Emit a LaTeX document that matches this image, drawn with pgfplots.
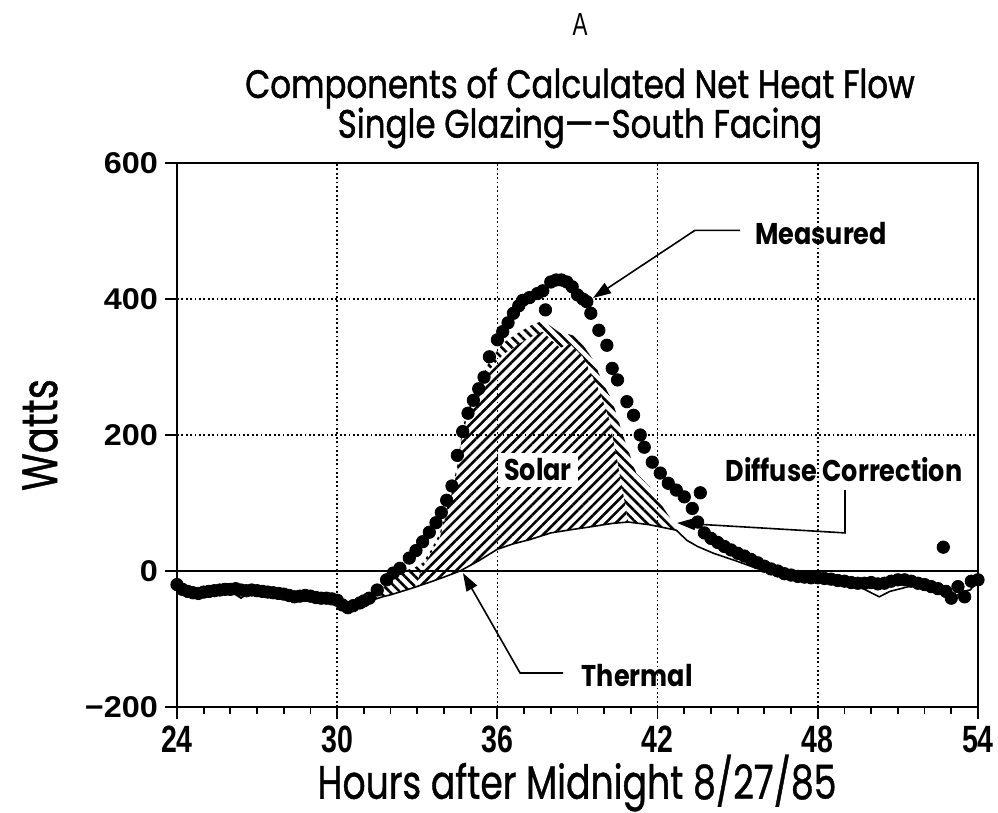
\documentclass[border=0pt]{standalone}
\usepackage{pgfplots}
\pgfplotsset{compat=1.18}
\usepgfplotslibrary{fillbetween}
\usetikzlibrary{patterns.meta, arrows.meta}
\usepackage{fontspec}
\setmainfont{Poppins}[FakeStretch=0.85]
\newfontfamily\titlefont{Poppins}[FakeStretch=0.82, FakeBold=1.2]
\newfontfamily\labfont{Poppins}[FakeStretch=0.77, FakeBold=0.8]
\newfontfamily\numfont{Liberation Sans}[FakeStretch=1.08]
\newfontfamily\xnumfont{Liberation Sans}[FakeStretch=0.75]
\newfontfamily\afont{Liberation Sans}[FakeStretch=0.7]

\begin{document}
\begin{tikzpicture}
\begin{axis}[
  scale only axis, width=400.5pt, height=272pt,
  xmin=24, xmax=54, ymin=-200, ymax=600,
  xtick={24,30,36,42,48,54}, xticklabels={24,30,36,42,48,54},
  minor x tick num=5,
  ytick={-200,0,200,400,600}, yticklabels={−200,0,200,400,600},
  tick align=outside, xtick pos=bottom, ytick pos=left,
  major tick length=6pt, minor tick length=3.5pt,
  every tick/.style={black, line width=0.9pt},
  axis line style={line width=1.2pt},
  grid=major,
  major grid style={black, line width=0.8pt, dash pattern=on 0.9pt off 1.3pt},
  xticklabel style={font=\xnumfont\bfseries\fontsize{19}{19}\selectfont},
  yticklabel style={font=\numfont\bfseries\fontsize{15}{15}\selectfont},
  clip=false,
]
% thermal
\addplot[name path=T, black, line width=0.8pt] coordinates {
(24.0,-25) (24.5,-30) (25.0,-33) (25.5,-31) (26.0,-30) (26.4,-40) (26.7,-31)
(27.0,-30) (27.5,-32) (28.0,-36) (28.5,-40) (29.0,-39) (29.5,-41) (30.0,-44)
(30.3,-56) (30.7,-50) (31.0,-46) (31.3,-43) (31.7,-38) (32.0,-35) (32.5,-29)
(32.9,-24) (33.5,-16) (34.0,-9) (34.6,0) (35.3,15) (36.0,32) (36.6,40)
(37.2,46) (38.0,56) (38.8,61) (39.5,65) (40.3,70) (40.9,72) (41.7,68)
(42.2,64) (42.7,60) (43.1,45) (43.5,36) (44.1,26) (45.0,14) (45.7,4)
(46.5,-3) (47.5,-9) (48.5,-12) (49.0,-15) (49.5,-22) (50.0,-32) (50.3,-38)
(50.7,-30) (51.2,-25) (51.7,-20) (52.3,-25) (52.8,-30) (53.1,-40) (53.4,-30)
(53.7,-28) (54.0,-15)};
% solar top
\addplot[name path=S, draw=none, forget plot] coordinates {
(31.3,-43) (31.7,-38) (32.0,-35) (32.5,-29) (32.9,-24) (33.2,5) (33.5,25)
(33.85,50) (34.2,100) (34.5,148) (34.7,205) (35.2,262) (35.7,296) (36.2,318)
(36.85,335) (37.3,345) (37.7,352) (38.0,340) (38.35,328) (38.7,335) (39.2,315)
(39.5,291) (39.85,262) (40.2,222) (40.5,160) (40.9,72) (41.7,68) (42.2,64)
(42.7,60) (43.1,45) (43.5,36)};
% diffuse top
\addplot[name path=D, draw=none, forget plot] coordinates {
(31.3,-43) (31.7,-25) (32.0,-12) (32.5,0) (32.9,5) (33.2,12) (33.5,30)
(33.85,56) (34.2,106) (34.5,155) (34.7,212) (35.2,270) (35.7,308) (36.2,335)
(36.85,352) (37.3,362) (37.7,368) (38.0,360) (38.35,350) (38.7,348) (39.0,344)
(39.6,310) (39.95,276) (40.3,251) (40.7,200) (41.2,144) (41.7,124) (42.35,85)
(42.7,65) (43.1,45) (43.5,36)};
\addplot[pattern={Lines[angle=45, distance=3.6pt, line width=1.3pt]}, draw=none]
  fill between[of=T and S, soft clip={domain=32.9:40.9}];
\addplot[pattern={Lines[angle=-45, distance=3.6pt, line width=1.3pt]}, draw=none]
  fill between[of=S and D, soft clip={domain=31.3:43.5}];
\draw[line width=0.9pt] (axis cs:24,0) -- (axis cs:54,0);
% measured
\addplot[only marks, mark=*, mark size=3.1pt, black] coordinates {
(24.0,-20) (24.2,-27) (24.4,-30) (24.6,-32) (24.8,-33) (25.0,-31) (25.2,-30)
(25.4,-29) (25.6,-28) (25.8,-27) (26.0,-27) (26.2,-26) (26.4,-28) (26.6,-29)
(26.8,-28) (27.0,-29) (27.2,-30) (27.4,-31) (27.6,-32) (27.8,-33) (28.0,-34)
(28.2,-36) (28.4,-38) (28.6,-37) (28.8,-36) (29.0,-37) (29.2,-39) (29.4,-40)
(29.6,-40) (29.8,-41) (30.0,-43) (30.2,-50) (30.4,-54) (30.6,-51) (30.85,-47)
(31.0,-44) (31.2,-40) (31.5,-28) (31.85,-13) (32.1,-3) (32.35,4) (32.7,19)
(32.95,30) (33.2,43) (33.45,57) (33.7,71) (33.9,86) (34.1,104) (34.3,125)
(34.5,170) (34.7,205) (34.9,232) (35.1,251) (35.3,268) (35.5,285) (35.7,315)
(36.0,340) (36.2,352) (36.4,365) (36.6,379) (36.8,390) (36.95,398) (37.2,402)
(37.5,408) (37.7,412) (37.8,384) (38.0,425) (38.2,428) (38.4,428) (38.6,425)
(38.8,418) (39.0,406) (39.2,400) (39.35,396) (39.5,379) (39.8,354) (40.1,332)
(40.3,298) (40.5,281) (40.85,249) (41.1,229) (41.35,200) (41.5,182) (41.8,160)
(42.1,144) (42.4,129) (42.7,119) (43.0,109) (43.3,92) (43.5,72) (43.6,115)
(43.75,56) (44.0,48) (44.25,42) (44.5,36) (44.75,31) (45.0,26) (45.25,22)
(45.5,17) (45.75,12) (46.0,7) (46.25,3) (46.5,0) (46.75,-4) (47.0,-6)
(47.25,-8) (47.5,-9) (47.75,-10) (48.0,-10) (48.25,-11) (48.5,-12) (48.75,-14)
(49.0,-15) (49.25,-17) (49.5,-18) (49.75,-18) (50.0,-17) (50.25,-19) (50.5,-18)
(50.75,-15) (51.0,-13) (51.25,-13) (51.5,-15) (51.75,-18) (52.0,-20) (52.25,-23)
(52.5,-26) (52.7,35) (52.8,-30) (53.0,-40) (53.25,-23) (53.5,-38) (53.75,-15)
(54.0,-13)};
% annotations
\node[fill=white, inner sep=3pt, font=\bfseries\fontsize{15}{15}\selectfont] at (axis cs:37.52,148.5) {Solar};
\node[anchor=west, font=\bfseries\fontsize{15}{15}\selectfont] at (axis cs:45.39,497) {Measured};
\draw[line width=0.8pt, -{Triangle[length=9pt,width=6pt]}] (axis cs:45.09,501) -- (axis cs:43.4,501) -- (axis cs:39.58,401.5);
\node[font=\bfseries\fontsize{15}{15}\selectfont] at (axis cs:48.98,148.5) {Diffuse Correction};
\draw[line width=0.8pt, -{Triangle[length=9pt,width=6pt]}] (axis cs:49.02,119) -- (axis cs:49.02,56) -- (axis cs:42.73,70.6);
\node[anchor=west, font=\bfseries\fontsize{15}{15}\selectfont] at (axis cs:38.9,-153) {Thermal};
\draw[line width=0.8pt, -{Triangle[length=9pt,width=6pt]}] (axis cs:38.46,-150) -- (axis cs:36.85,-150) -- (axis cs:34.71,-3);
\end{axis}
\node[font=\afont\fontsize{16}{16}\selectfont] at (201.5pt,341pt) {A};
\node[font=\titlefont\fontsize{19.8}{19.8}\selectfont] at (201.5pt,309.5pt) {Components of Calculated Net Heat Flow};
\node[font=\titlefont\fontsize{19.8}{19.8}\selectfont] at (201.5pt,289.5pt) {Single Glazing—-South Facing};
\node[font=\labfont\fontsize{25}{25}\selectfont, rotate=90] at (-68.5pt,136pt) {Watts};
\node[font=\labfont\fontsize{23.5}{23.5}\selectfont] at (200pt,-38pt) {Hours after Midnight 8/27/85};
\pgfresetboundingbox
\path[use as bounding box] (-88.5pt,-53pt) rectangle (410.5pt,353.5pt);
\end{tikzpicture}
\end{document}
